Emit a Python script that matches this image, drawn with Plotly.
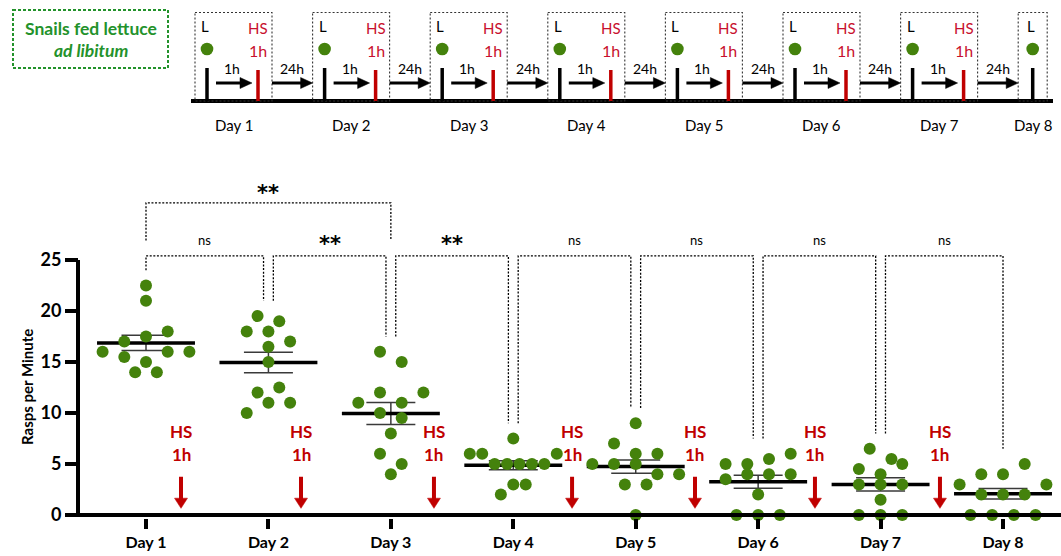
import numpy as np
import plotly.graph_objects as go

# ---------------- data ----------------
days = ["Day 1", "Day 2", "Day 3", "Day 4", "Day 5", "Day 6", "Day 7", "Day 8"]
day1 = [22.5, 21, 17, 17.5, 18, 16, 15.5, 15, 16, 16, 14, 14]
day2 = [19.5, 19, 18, 18, 17, 16.5, 15, 12, 12.5, 10, 11, 11]
day3 = [16, 15, 11, 12, 11, 12, 10, 9.5, 8, 6, 5, 4]
day4 = [7.5, 6, 6, 5, 5, 5, 5, 5, 6, 2, 3, 3]
day5 = [9, 7, 6, 5, 5, 5, 6, 4, 3, 3, 4, 0]
day6 = [5, 5, 5.5, 6, 3.5, 4, 4, 4, 2, 0, 0, 0]
day7 = [6.5, 5.5, 4.5, 4, 5, 3, 3, 3, 1.5, 0, 0, 0]
day8 = [4, 4, 5, 3, 2, 2, 2, 3, 0, 0, 0, 0]
rasps = [day1, day2, day3, day4, day5, day6, day7, day8]

y_ticks = [0, 5, 10, 15, 20, 25]
comparisons = [(0, 1, "ns"), (1, 2, "**"), (2, 3, "**"), (3, 4, "ns"),
               (4, 5, "ns"), (5, 6, "ns"), (6, 7, "ns")]
overall_comparison = (0, 2, "**")
schematic_days = ["Day 1", "Day 2", "Day 3", "Day 4", "Day 5", "Day 6", "Day 7", "Day 8"]

# ---------------- layout constants ----------------
W, H = 1061, 556
PXX = 122.43          # px per category
PXY = 10.2            # px per y unit
DAY1_PX = 146
Y0_PX = 515
X_LEFT_PX = 65
Y_LO, Y_HI = -0.3, 33.5
x_range = [(X_LEFT_PX - DAY1_PX) / PXX, (W - DAY1_PX) / PXX]
plot_bottom_px = Y0_PX - Y_LO * PXY
plot_top_px = Y0_PX - Y_HI * PXY
yaxis_x = (78 - DAY1_PX) / PXX
hs_x = [0.286, 1.266, 2.352, 3.48, 4.484, 5.464, 6.485]   # annotation anchors

GREEN = "#44820C"
TXT_GREEN = "#23922B"
RED = "#C00000"
SRED = "#C8102E"
FONT = "Lato"
STAR_FONT = "DejaVu Sans"


def swarm_offsets(vals, slot_px=21.7, max_span_px=87.0, tol=1.0):
    order = sorted(range(len(vals)), key=lambda k: (-vals[k], k))
    rows = []
    for k in order:
        if rows and rows[-1][0] - vals[k] <= tol + 1e-9:
            rows[-1][1].append(k)
        else:
            rows.append([vals[k], [k]])
    biggest = max(len(r[1]) for r in rows)
    step = slot_px if biggest < 2 else min(slot_px, max_span_px / (biggest - 1))
    off = [0.0] * len(vals)
    for _, members in rows:
        members.sort()
        n = len(members)
        for j, k in enumerate(members):
            off[k] = (j - (n - 1) / 2) * step
    return [o / PXX for o in off]


fig = go.Figure()

# mean lines and SEM bars
mx, my, ex, ey = [], [], [], []
for i, vals in enumerate(rasps):
    v = np.array(vals, dtype=float)
    m = v.mean()
    sem = v.std(ddof=1) / np.sqrt(len(v))
    mx += [i - 0.4, i + 0.4, None]
    my += [m, m, None]
    ex += [i - 0.2, i + 0.2, None, i, i, None, i - 0.2, i + 0.2, None]
    ey += [m + sem, m + sem, None, m - sem, m + sem, None, m - sem, m - sem, None]

fig.add_trace(go.Scatter(x=ex, y=ey, mode="lines", line=dict(color="#3a3a3a", width=1.5),
                         hoverinfo="skip", showlegend=False))
fig.add_trace(go.Scatter(x=mx, y=my, mode="lines", line=dict(color="black", width=3.5),
                         hoverinfo="skip", showlegend=False))

# dots
px_, py_ = [], []
for i, vals in enumerate(rasps):
    offs = swarm_offsets(vals)
    px_ += [i + o for o in offs]
    py_ += list(vals)
fig.add_trace(go.Scatter(x=px_, y=py_, mode="markers", cliponaxis=False,
                         marker=dict(color=GREEN, size=12, line=dict(width=0)),
                         showlegend=False))

shapes = []
annotations = []

# axis lines
shapes.append(dict(type="line", xref="x", yref="y", x0=yaxis_x, x1=yaxis_x, y0=0, y1=25,
                   line=dict(color="black", width=4)))
shapes.append(dict(type="line", xref="x", yref="y", x0=x_range[0], x1=x_range[1], y0=0, y1=0,
                   line=dict(color="black", width=4)))

# significance brackets
BR_Y = 25.4
dash = "2px,1.6px"
for a, b, lab in comparisons:
    xa = a + (0.04 if a > 0 else 0)
    xb = b - (0.04 if b < len(days) - 1 else 0)
    ya = max(rasps[a]) + 1.5
    yb = max(rasps[b]) + 1.5
    shapes.append(dict(type="path", xref="x", yref="y",
                       path=f"M {xa},{ya} L {xa},{BR_Y} L {xb},{BR_Y} L {xb},{yb}",
                       line=dict(color="black", width=1.3, dash=dash)))
    if lab == "ns":
        annotations.append(dict(x=(xa + xb) / 2, y=27.0, xref="x", yref="y", text=lab,
                                showarrow=False, font=dict(family=FONT, size=13, color="black")))
    else:
        annotations.append(dict(x=(xa + xb) / 2, y=26.6, xref="x", yref="y", text="<b>" + lab + "</b>",
                                showarrow=False, font=dict(family=STAR_FONT, size=21, color="black")))
a, b, lab = overall_comparison
shapes.append(dict(type="path", xref="x", yref="y",
                   path=f"M {a},26.9 L {a},30.6 L {b},30.6 L {b},26.9",
                   line=dict(color="black", width=1.3, dash=dash)))
annotations.append(dict(x=(a + b) / 2, y=31.6, xref="x", yref="y", text="<b>" + lab + "</b>",
                        showarrow=False, font=dict(family=STAR_FONT, size=21, color="black")))

# HS arrows in plot
hw = 6.5 / PXX
for xh in hs_x:
    annotations.append(dict(x=xh, y=8.14, xref="x", yref="y", text="<b>HS</b>", showarrow=False,
                            font=dict(family=FONT, size=17, color=RED)))
    annotations.append(dict(x=xh, y=5.98, xref="x", yref="y", text="<b>1h</b>", showarrow=False,
                            font=dict(family=FONT, size=17, color=RED)))
    shapes.append(dict(type="line", xref="x", yref="y", x0=xh, x1=xh, y0=3.75, y1=1.5,
                       line=dict(color=RED, width=4)))
    shapes.append(dict(type="path", xref="x", yref="y",
                       path=f"M {xh-hw},1.65 L {xh+hw},1.65 L {xh},0.65 Z",
                       fillcolor=RED, line=dict(color=RED, width=0.5)))

# y-axis title
annotations.append(dict(x=27 / W, y=1 - 387 / H, xref="paper", yref="paper", text="<b>Rasps per Minute</b>",
                        xanchor="center", yanchor="middle",
                        textangle=-90, showarrow=False, font=dict(family=FONT, size=15, color="black")))


# ---------------- schematic (pixel helpers) ----------------
def PX(x):
    return x / W


def PY(y):
    return 1 - y / H


def pline(x0, y0, x1, y1, color, width, dash=None):
    d = dict(type="line", xref="paper", yref="paper", x0=PX(x0), y0=PY(y0), x1=PX(x1), y1=PY(y1),
             line=dict(color=color, width=width))
    if dash:
        d["line"]["dash"] = dash
    shapes.append(d)


def ptext(x, y, text, size, color="black"):
    annotations.append(dict(x=PX(x), y=PY(y), xref="paper", yref="paper", text=text, showarrow=False,
                            xanchor="center", yanchor="middle",
                            font=dict(family=FONT, size=size, color=color)))


def parrow(x0, x1, y):
    pline(x0, y, x1 - 9, y, "black", 3)
    shapes.append(dict(type="path", xref="paper", yref="paper",
                       path=f"M {PX(x1-12)},{PY(y-5.5)} L {PX(x1-12)},{PY(y+5.5)} L {PX(x1)},{PY(y)} Z",
                       fillcolor="black", line=dict(color="black", width=0.5)))


# green box
shapes.append(dict(type="rect", xref="paper", yref="paper", x0=PX(13), x1=PX(168), y0=PY(10), y1=PY(68),
                   line=dict(color=TXT_GREEN, width=2, dash="3px,2px")))
ptext(91, 28, "<b>Snails fed lettuce</b>", 17.5, TXT_GREEN)
ptext(91, 51, "<b><i>ad libitum</i></b>", 17.5, TXT_GREEN)

# baseline
pline(191, 101, 1053, 101, "black", 4)

n_sd = len(schematic_days)
for i, lab in enumerate(schematic_days):
    bl = 195 + 117.6 * i
    last = i == n_sd - 1
    bw = 29 if last else 77
    shapes.append(dict(type="rect", xref="paper", yref="paper", x0=PX(bl), x1=PX(bl + bw),
                       y0=PY(12.5), y1=PY(101), line=dict(color="#333333", width=1.1, dash="2px,2px")))
    tx = bl + (14.5 if last else 12)
    ptext(tx - 2, 26, "L", 15)
    shapes.append(dict(type="circle", xref="paper", yref="paper", x0=PX(tx - 6.3), x1=PX(tx + 6.3),
                       y0=PY(49 - 6.3), y1=PY(49 + 6.3), fillcolor=GREEN, line=dict(width=0)))
    pline(tx, 68, tx, 101, "black", 3.5)
    ptext(bl + bw / 2, 125, lab, 15)
    if not last:
        pline(bl + 63, 70, bl + 63, 101, RED, 3.5)
        ptext(bl + 63, 28, "HS", 15, SRED)
        ptext(bl + 63, 51, "1h", 16, SRED)
        parrow(bl + 21, bl + 57, 83)
        ptext(bl + 37, 68, "1h", 14)
        nbl = 195 + 117.6 * (i + 1)
        parrow(bl + bw, nbl, 83)
        ptext((bl + bw + nbl) / 2, 68, "24h", 14)

fig.update_layout(
    width=W, height=H,
    margin=dict(l=0, r=0, t=0, b=0, autoexpand=False),
    paper_bgcolor="white", plot_bgcolor="white",
    showlegend=False,
    xaxis=dict(domain=[X_LEFT_PX / W, 1], range=x_range, tickmode="array", automargin=False,
               tickvals=list(range(len(days))), ticktext=["<b>" + d + "</b>" for d in days],
               ticks="outside", ticklen=10, tickwidth=4, tickcolor="black",
               showline=False, showgrid=False, zeroline=False,
               tickfont=dict(family=FONT, size=16, color="black")),
    yaxis=dict(domain=[(H - plot_bottom_px) / H, (H - plot_top_px) / H], range=[Y_LO, Y_HI],
               anchor="free", position=78 / W, tickmode="array", tickvals=y_ticks, automargin=False,
               ticktext=["<b>%d</b>" % t for t in y_ticks],
               ticks="outside", ticklen=13, tickwidth=4, tickcolor="black",
               showline=False, showgrid=False, zeroline=False,
               tickfont=dict(family=FONT, size=18, color="black")),
    shapes=shapes,
    annotations=annotations,
)

fig.write_html("out.html")
